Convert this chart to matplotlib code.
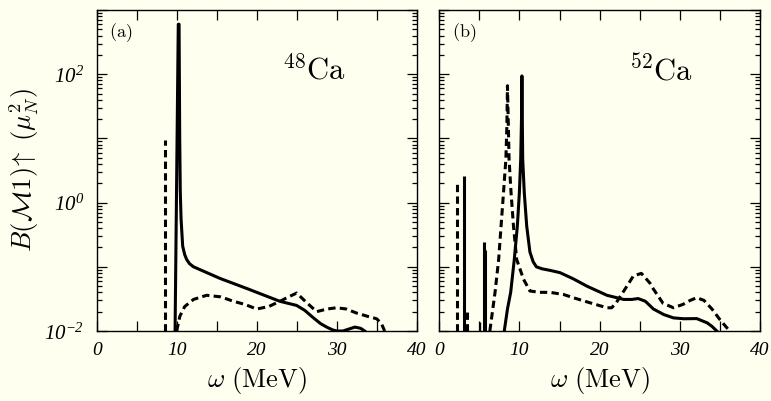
import matplotlib

matplotlib.use("Agg")
import matplotlib.pyplot as plt  # noqa: E402
from matplotlib.ticker import FixedLocator, LogLocator, NullFormatter  # noqa: E402

plt.rcParams["mathtext.fontset"] = "cm"
plt.rcParams["font.family"] = "serif"
# italic Times-like digits for the decade labels (used via math_fontfamily)
plt.rcParams["mathtext.rm"] = "Liberation Serif:italic"
plt.rcParams["mathtext.it"] = "Liberation Serif:italic"

BG = "#fffff0"

# 48Ca: continuum curves (omega in MeV, B(M1) in mu_N^2)
a_solid_w = [9.8, 10.2, 10.3, 10.38, 10.45, 10.55, 10.75, 11.0, 11.25,
             11.6, 12.1, 13.3, 15.4, 18.95, 20.0, 22.9, 25.0, 26.0, 27.1,
             28.0, 28.75, 29.5, 30.0, 30.8, 31.6, 32.3, 33.0, 33.5]
a_solid_b = [0.01, 600, 600, 10, 1.5, 0.55, 0.21, 0.155, 0.13,
             0.112, 0.10, 0.086, 0.066, 0.045, 0.04, 0.029, 0.025, 0.021,
             0.016, 0.013, 0.0115, 0.0104, 0.01, 0.01, 0.0108, 0.0115,
             0.011, 0.01]
a_dash_w = [10.0, 10.4, 11.0, 12.1, 13.75, 15.5, 17.1, 18.5, 20.0, 21.5,
            22.9, 24.0, 25.0, 26.2, 27.5, 28.8, 30.0, 31.2, 32.5, 33.8,
            35.0, 35.6, 36.0]
a_dash_b = [0.01, 0.017, 0.024, 0.031, 0.036, 0.034, 0.029, 0.026, 0.022,
            0.024, 0.029, 0.034, 0.039, 0.028, 0.020, 0.022, 0.023, 0.022,
            0.019, 0.017, 0.0155, 0.013, 0.01]
# 48Ca: discrete states
a_dash_spike_w = [8.6]
a_dash_spike_b = [9.4]

# 52Ca: continuum curves
b_solid_w = [8.1, 8.5, 8.9, 9.35, 9.73, 9.98, 10.15, 10.25, 10.3, 10.35,
             10.4, 10.6, 10.9, 11.3, 11.7, 12.1, 12.8, 13.8, 15.05, 16.7,
             18.4, 20.9, 23.0, 24.0, 24.8, 25.7, 26.7, 28.0, 29.2, 30.5,
             32.1, 33.4, 34.0, 34.6]
b_solid_b = [0.01, 0.022, 0.04, 0.13, 0.43, 1.4, 4.7, 20, 94, 20,
             4.7, 1.4, 0.43, 0.17, 0.12, 0.10, 0.093, 0.088, 0.081, 0.065,
             0.05, 0.036, 0.031, 0.031, 0.032, 0.029, 0.022, 0.018, 0.016,
             0.0155, 0.0156, 0.0134, 0.0118, 0.01]
b_dash_w = [6.3, 6.95, 7.4, 7.7, 8.0, 8.3, 8.42, 8.5, 8.7, 8.95, 9.25, 9.65,
            10.5, 11.3, 12.5, 13.8, 15.5, 16.7, 19.0, 20.9, 21.5, 22.1, 23.4,
            24.2, 25.2, 26.3, 26.7, 27.9, 29.2, 30.4, 31.3, 32.1, 33.0, 34.0,
            35.0, 36.2]
b_dash_b = [0.01, 0.04, 0.13, 0.43, 1.4, 4.7, 15, 66, 4.7, 1.4, 0.43, 0.13,
            0.064, 0.042, 0.04, 0.04, 0.037, 0.033, 0.027, 0.023, 0.023, 0.028,
            0.05, 0.072, 0.079, 0.055, 0.045, 0.027, 0.023, 0.026, 0.030,
            0.033, 0.03, 0.022, 0.015, 0.01]
# 52Ca: discrete states
b_solid_spike_w = [3.1, 5.55, 5.7]
b_solid_spike_b = [2.6, 0.24, 0.18]
b_thin_spike_w = [5.1]
b_thin_spike_b = [0.014]
b_dash_spike_w = [2.25, 3.5]
b_dash_spike_b = [2.1, 0.02]

x_ticks = [0, 5, 10, 15, 20, 25, 30, 35, 40]
x_labels = ["0", "", "10", "", "20", "", "30", "", "40"]
y_ticks = [1e-2, 1e-1, 1e0, 1e1, 1e2, 1e3]
y_labels = [r"$10^{-2}$", "", r"$10^{0}$", "", r"$10^{2}$", ""]

LW = 2.2
DASH = (2.4, 1.4)

fig = plt.figure(figsize=(7.71, 4.01), dpi=100, facecolor=BG)
ax_a = fig.add_axes([0.1254, 0.1746, 0.415, 0.8005])
ax_b = fig.add_axes([0.5698, 0.1746, 0.416, 0.8005])

for ax in (ax_a, ax_b):
    ax.set_facecolor(BG)
    ax.set_yscale("log")
    ax.set_xlim(0, 40)
    ax.set_ylim(1e-2, 1e3)
    ax.xaxis.set_major_locator(FixedLocator(x_ticks))
    ax.yaxis.set_major_locator(FixedLocator(y_ticks))
    ax.yaxis.set_minor_locator(LogLocator(base=10, subs=range(2, 10)))
    ax.yaxis.set_minor_formatter(NullFormatter())
    ax.tick_params(which="both", direction="in", top=True, right=True,
                   width=0.9)
    ax.tick_params(which="major", length=7)
    ax.tick_params(which="minor", length=3.5)
    ax.tick_params(axis="x", labelsize=14, pad=8)
    ax.tick_params(axis="y", pad=9)
    ax.set_xticklabels(x_labels, fontfamily="Liberation Serif",
                       style="italic")
    for s in ax.spines.values():
        s.set_linewidth(1.0)
    ax.set_xlabel(r"$\omega\ (\mathrm{MeV})$", fontsize=19, labelpad=4)

ax_a.set_yticklabels(y_labels, fontsize=15, math_fontfamily="custom")
ax_a.set_ylabel(r"$B(\mathcal{M}1)\!\uparrow\ (\mu_N^2)$", fontsize=19,
                labelpad=2.5)
ax_b.set_yticklabels([])

# (a) 48Ca
ax_a.plot(a_solid_w, a_solid_b, color="black", lw=LW)
ax_a.plot(a_dash_w, a_dash_b, color="black", lw=LW, ls=(0, DASH))
ax_a.vlines(a_dash_spike_w, 1e-2, a_dash_spike_b, color="black", lw=LW,
            linestyles=[(0, DASH)])
ax_a.text(0.04, 0.965, r"$\mathrm{(a)}$", transform=ax_a.transAxes,
          fontsize=13, va="top", ha="left")
ax_a.text(0.58, 0.81, r"$^{48}\mathrm{Ca}$", transform=ax_a.transAxes,
          fontsize=22, va="center", ha="left")

# (b) 52Ca
ax_b.plot(b_solid_w, b_solid_b, color="black", lw=LW)
ax_b.plot(b_dash_w, b_dash_b, color="black", lw=LW, ls=(0, DASH))
ax_b.vlines(b_solid_spike_w, 1e-2, b_solid_spike_b, color="black", lw=LW)
ax_b.vlines(b_thin_spike_w, 1e-2, b_thin_spike_b, color="black", lw=1.0)
ax_b.vlines(b_dash_spike_w, 1e-2, b_dash_spike_b, color="black", lw=LW,
            linestyles=[(0, DASH)])
ax_b.text(0.04, 0.965, r"$\mathrm{(b)}$", transform=ax_b.transAxes,
          fontsize=13, va="top", ha="left")
ax_b.text(0.59, 0.81, r"$^{52}\mathrm{Ca}$", transform=ax_b.transAxes,
          fontsize=22, va="center", ha="left")

fig.savefig("out.png", dpi=100, facecolor=BG)
